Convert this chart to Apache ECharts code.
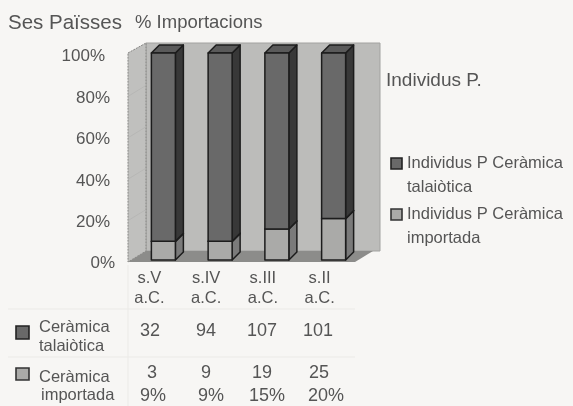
<!DOCTYPE html>
<html><head><meta charset="utf-8">
<style>html,body{margin:0;padding:0;background:#f7f6f4}#c{width:573px;height:406px}</style>
<script src="https://cdn.jsdelivr.net/npm/echarts@6/dist/echarts.min.js"></script>
</head><body><div id="c"></div>
<script>
const categories = ['s.V\na.C.', 's.IV\na.C.', 's.III\na.C.', 's.II\na.C.'];
const pctImportada = [9, 9, 15, 20];
const pctTalaiotica = [91, 91, 85, 80];
const countTalaiotica = [32, 94, 107, 101];
const countImportada = [3, 9, 19, 25];
const pctLabels = ['9%', '9%', '15%', '20%'];
const nameTal = ['Individus P Ceràmica', 'talaiòtica'];
const nameImp = ['Individus P Ceràmica', 'importada'];

const FONT = '"Liberation Sans", Arial, sans-serif';
const TXT = '#555';
const D = 8, W = 24;
const C_TAL = '#696969', C_IMP = '#aaaaa8';

function barRender(front, side, top) {
  return function (params, api) {
    const c = api.value(0);
    const lo = api.coord([c, api.value(1)]);
    const hi = api.coord([c, api.value(2)]);
    const x0 = lo[0] - W / 2, x1 = lo[0] + W / 2, yb = lo[1], yt = hi[1];
    const stroke = { stroke: '#1c1c1c', lineWidth: 1.5, lineJoin: 'round' };
    return { type: 'group', children: [
      { type: 'polygon', shape: { points: [[x1, yb], [x1 + D, yb - D], [x1 + D, yt - D], [x1, yt]] }, style: { fill: side, ...stroke } },
      { type: 'polygon', shape: { points: [[x0, yt], [x0 + D, yt - D], [x1 + D, yt - D], [x1, yt]] }, style: { fill: top, ...stroke } },
      { type: 'rect', shape: { x: x0, y: yt, width: W, height: yb - yt }, style: { fill: front, ...stroke } }
    ] };
  };
}

function wallRender(params, api) {
  const g = params.coordSys;
  const L = g.x - 7, R = g.x + g.width - 7, T = g.y, B = g.y + g.height + 2;
  const dx = 18, dy = 11;
  const lines = [];
  [0.2, 0.4, 0.6, 0.8].forEach(f => {
    const y = B - f * g.height;
    lines.push({ type: 'line', shape: { x1: L, y1: y, x2: L + dx, y2: y - dy }, style: { stroke: '#b0b0ae', lineWidth: 0.6 } });
  });
  return { type: 'group', children: [
    { type: 'polygon', shape: { points: [[L + dx, T - dy + 1], [R + 25, T - dy + 1], [R + 25, B - dy], [L + dx, B - dy]] }, style: { fill: '#bcbcba', stroke: '#a2a2a0', lineWidth: 1 } },
    { type: 'polygon', shape: { points: [[L, T], [L + dx, T - dy + 1], [L + dx, B - dy], [L, B]] }, style: { fill: '#c0c0be', stroke: '#858583', lineWidth: 1, lineDash: [2, 1] } },
    { type: 'polygon', shape: { points: [[L, B], [L + dx, B - dy], [R + dx, B - dy], [R, B]] }, style: { fill: '#8c8c8a' } },
    ...lines
  ] };
}

const colTal = [150, 206, 262, 318], colImp = [152, 206, 262, 319], colPct = [153, 211, 267, 326];
function t(text, x, y, size, align) {
  return { type: 'text', x, y, style: { text, fill: TXT, font: size + 'px ' + FONT, textAlign: align || 'left', textVerticalAlign: 'middle' } };
}
function swatch(x, y, w, h, fill, stroke) {
  return { type: 'rect', shape: { x, y, width: w, height: h }, style: { fill, stroke, lineWidth: 1.6 } };
}
function hair(x1, y1, x2, y2) {
  return { type: 'line', shape: { x1, y1, x2, y2 }, style: { stroke: '#ebeae7', lineWidth: 1 } };
}
const graphics = [
  t('Ses Païsses', 8, 23, 20.5),
  t('% Importacions', 135, 23, 18.5),
  t('Individus P.', 386, 81, 19),
  t(nameTal[0], 407, 163, 16.5), t(nameTal[1], 407, 187, 16.5),
  t(nameImp[0], 407, 214, 16.5), t(nameImp[1], 407, 238, 16.5),
  swatch(391, 158, 11, 11, C_TAL, '#222'),
  swatch(391, 209, 11, 11, C_IMP, '#333'),
  t('Ceràmica', 39, 327, 16.5), t('talaiòtica', 39, 346, 16.5),
  t('Ceràmica', 39, 377, 16.5), t('importada', 41, 395, 16.5),
  swatch(16, 326, 13, 13, C_TAL, '#222'),
  swatch(16, 368, 13, 12, C_IMP, '#333'),
  hair(8, 309, 355, 309), hair(8, 357, 355, 357), hair(128, 265, 128, 406)
];
countTalaiotica.forEach((v, i) => graphics.push(t(String(v), colTal[i], 331, 18, 'center')));
countImportada.forEach((v, i) => graphics.push(t(String(v), colImp[i], 373, 18, 'center')));
pctLabels.forEach((v, i) => graphics.push(t(v, colPct[i], 396, 18, 'center')));

const yRich = {
  top: { color: TXT, fontSize: 17, padding: [7, 10, 0, 0], fontFamily: FONT },
  mid: { color: TXT, fontSize: 17, padding: [8, 5, 0, 0], fontFamily: FONT },
  low: { color: TXT, fontSize: 17, padding: [7, 0, 0, 0], fontFamily: FONT }
};

const chart = echarts.init(document.getElementById('c'), null, { renderer: 'canvas' });
chart.setOption({
  animation: false,
  backgroundColor: '#f7f6f4',
  textStyle: { fontFamily: FONT },
  grid: { left: 135, top: 53, width: 227, height: 207 },
  xAxis: {
    type: 'category', data: categories,
    axisLine: { show: false }, axisTick: { show: false },
    axisLabel: { color: TXT, fontSize: 16.5, lineHeight: 20, margin: 8, padding: [0, 28, 0, 0], interval: 0, fontFamily: FONT }
  },
  yAxis: {
    type: 'value', min: 0, max: 100, interval: 20,
    axisLine: { show: false }, axisTick: { show: false }, splitLine: { show: false },
    axisLabel: {
      margin: 20, rich: yRich,
      formatter: v => (v === 100 ? '{top|' : v === 0 ? '{low|' : '{mid|') + v + '%}'
    }
  },
  graphic: graphics,
  series: [
    { type: 'custom', silent: true, z: 1, coordinateSystem: 'cartesian2d', data: [[0, 0, 0]], renderItem: wallRender, encode: { x: 0, y: 1 } },
    { name: nameImp.join(' '), type: 'custom', z: 2, coordinateSystem: 'cartesian2d',
      data: pctImportada.map((v, i) => [i, 0, v]),
      renderItem: barRender(C_IMP, '#7a7a7a', C_IMP), encode: { x: 0, y: [1, 2] } },
    { name: nameTal.join(' '), type: 'custom', z: 3, coordinateSystem: 'cartesian2d',
      data: pctTalaiotica.map((v, i) => [i, pctImportada[i], pctImportada[i] + v]),
      renderItem: barRender(C_TAL, '#383838', '#5a5a5a'), encode: { x: 0, y: [1, 2] } }
  ]
});
</script></body></html>
